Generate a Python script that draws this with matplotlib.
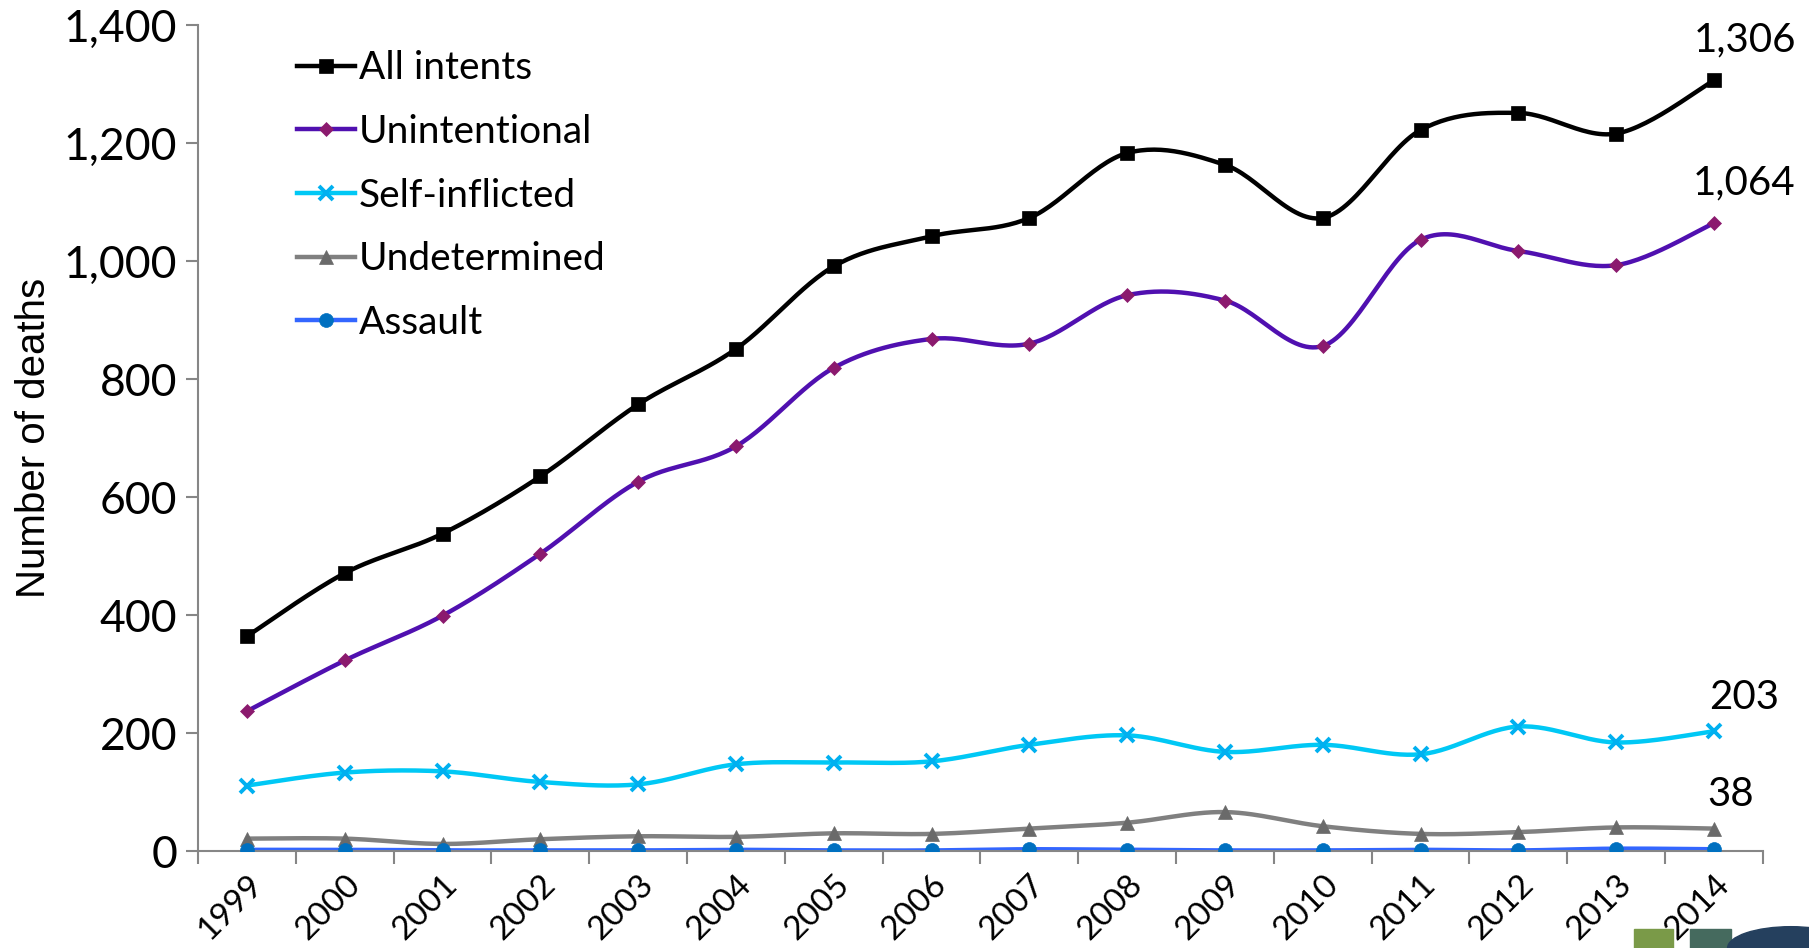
import numpy as np
import matplotlib
matplotlib.use("Agg")
import matplotlib.pyplot as plt
from matplotlib.patches import Rectangle, Ellipse

years = ["1999", "2000", "2001", "2002", "2003", "2004", "2005", "2006",
         "2007", "2008", "2009", "2010", "2011", "2012", "2013", "2014"]

all_intents   = [364, 471, 538, 635, 757, 851, 991, 1042, 1073, 1183, 1163, 1073, 1222, 1251, 1216, 1306]
unintentional = [237, 323, 399, 504, 626, 686, 819, 868, 860, 942, 933, 856, 1036, 1017, 993, 1064]
self_inflicted = [111, 133, 135, 117, 113, 147, 150, 152, 180, 196, 168, 180, 164, 211, 184, 203]
undetermined  = [21, 21, 12, 20, 25, 24, 30, 29, 38, 48, 66, 42, 29, 32, 40, 38]
assault       = [2, 2, 1, 1, 1, 2, 1, 1, 3, 2, 1, 1, 2, 1, 4, 3]

series = [
    # label, values, line colour, marker, marker colour, marker size
    ("All intents",    all_intents,    "#000000", "s", "#000000", 10),
    ("Unintentional",  unintentional,  "#5010B0", "D", "#8B1A6E", 7),
    ("Self-inflicted", self_inflicted, "#00C8F5", "x", "#00B0F0", 10),
    ("Undetermined",   undetermined,   "#808080", "^", "#6A6A6A", 10),
    ("Assault",        assault,        "#3366FF", "o", "#0070C0", 10),
]


def smooth(y, n=30):
    # Catmull-Rom style bezier through every point (same as a spreadsheet "smoothed line")
    y = np.asarray(y, float)
    x = np.arange(len(y), dtype=float)
    p = np.column_stack([x, y])
    p = np.vstack([p[0], p, p[-1]])
    t = np.linspace(0, 1, n)[:, None]
    out = []
    for i in range(1, len(p) - 2):
        p0, p1, p2, p3 = p[i - 1], p[i], p[i + 1], p[i + 2]
        b1 = p1 + (p2 - p0) / 6
        b2 = p2 - (p3 - p1) / 6
        seg = ((1 - t) ** 3) * p1 + 3 * ((1 - t) ** 2) * t * b1 + 3 * (1 - t) * t ** 2 * b2 + t ** 3 * p2
        out.append(seg if i == 1 else seg[1:])
    out = np.vstack(out)
    return out[:, 0], out[:, 1]


plt.rcParams["font.family"] = ["Lato", "DejaVu Sans"]

fig = plt.figure(figsize=(18.09, 9.48), dpi=100)
ax = fig.add_axes([0.1095, 0.1023, 0.865, 0.8713])

x = np.arange(len(years))
for label, vals, lc, mk, mc, ms in series:
    sx, sy = smooth(vals)
    ax.plot(sx, sy, color=lc, lw=3.2, zorder=2, solid_capstyle="round")
    ax.plot(x, vals, ls="none", marker=mk, color=mc, ms=ms,
            mew=2.8 if mk == "x" else 0.5, mec=mc, zorder=3)

# legend entries: line + marker
handles = [plt.Line2D([], [], color=lc, lw=3.2, marker=mk, ms=ms, mfc=mc, mec=mc,
                      mew=2.8 if mk == "x" else 0.5)
           for _, _, lc, mk, mc, ms in series]
leg = ax.legend(handles, [s[0] for s in series], loc="upper left",
                bbox_to_anchor=(0.053, 0.988), frameon=False, fontsize=28,
                handlelength=1.5, handletextpad=0.1, labelspacing=0.71,
                borderaxespad=0)

# end-of-series values
label_dx = [22, 22, 22, 12]
label_dy = [16, 16, 11, 11]
for vals, dx, dy in zip((all_intents, unintentional, self_inflicted, undetermined), label_dx, label_dy):
    ax.annotate(f"{vals[-1]:,}", (x[-1], vals[-1]), xytext=(dx, dy),
                textcoords="offset points", ha="center", va="bottom", fontsize=29)

ax.set_xlim(-0.5, len(years) - 0.5)
ax.set_ylim(0, 1400)
ax.set_yticks(np.arange(0, 1401, 200))
ax.set_yticklabels([f"{v:,}" for v in range(0, 1401, 200)], fontsize=32)
ax.set_xticks(np.arange(-0.5, len(years), 1.0))
ax.set_xticklabels([])
ax.set_xticks(x, minor=True)
ax.set_xticklabels(years, minor=True, rotation=45, ha="right", va="top",
                   rotation_mode="anchor", fontsize=24)
ax.tick_params(axis="x", which="minor", length=0, pad=13)
ax.tick_params(axis="x", which="major", length=9, width=1.5, color="#868686", direction="out")
ax.tick_params(axis="y", length=9, width=1.5, color="#868686", direction="out", pad=6)

for side in ("top", "right"):
    ax.spines[side].set_visible(False)
for side in ("left", "bottom"):
    ax.spines[side].set_color("#868686")
    ax.spines[side].set_linewidth(1.5)

ax.set_ylabel("Number of deaths", fontsize=29, family="Liberation Sans", labelpad=8)

# corner logo fragment
fig.patches.append(Rectangle((0.903, 0.0), 0.022, 0.02, transform=fig.transFigure,
                             color="#7A9A48", zorder=0))
fig.patches.append(Rectangle((0.934, 0.0), 0.023, 0.02, transform=fig.transFigure,
                             color="#456A5E", zorder=0))
fig.patches.append(Ellipse((0.99, 0.0), 0.07, 0.045, transform=fig.transFigure,
                           color="#25405E", zorder=0))

fig.savefig("out.png", dpi=100)
